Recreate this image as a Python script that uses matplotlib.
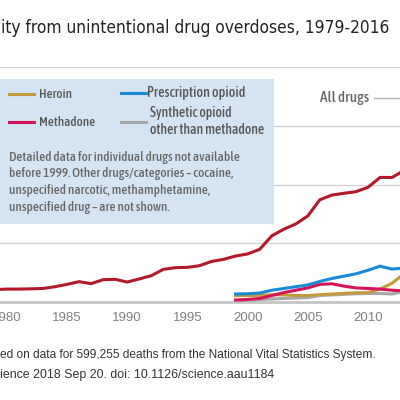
import matplotlib
matplotlib.use("Agg")
import matplotlib.pyplot as plt
from matplotlib import font_manager as fm
from matplotlib.patches import Rectangle
from matplotlib.lines import Line2D

# deaths per 100,000
years_all = list(range(1979, 2017))
all_drugs = [1.05, 1.1, 1.1, 1.12, 1.15, 1.3, 1.5, 1.73, 1.56, 1.9,
             1.93, 1.7, 1.96, 2.24, 2.78, 2.92, 2.95, 3.09, 3.45, 3.63,
             3.91, 4.09, 4.48, 5.62, 6.19, 6.64, 7.32, 8.7, 9.1, 9.25,
             9.39, 9.76, 10.6, 10.6, 11.2, 12.2, 13.8, 17.0]

years_drug = list(range(1999, 2017))
heroin = [0.54, 0.55, 0.54, 0.62, 0.6, 0.55, 0.55, 0.62, 0.68, 0.74,
          0.78, 0.8, 1.1, 1.6, 2.4, 3.2, 4.2, 5.0]
prescription = [0.68, 0.7, 0.76, 1.0, 1.15, 1.3, 1.45, 1.75, 2.0, 2.2,
                2.4, 2.7, 3.05, 2.8, 2.9, 3.1, 3.2, 3.5]
methadone = [0.17, 0.22, 0.3, 0.55, 0.8, 1.0, 1.2, 1.5, 1.55, 1.35,
             1.2, 1.15, 1.1, 1.0, 0.95, 0.9, 0.9, 0.95]
synthetic = [0.1, 0.15, 0.2, 0.26, 0.3, 0.33, 0.37, 0.55, 0.6, 0.65,
             0.7, 0.72, 0.72, 0.68, 0.9, 1.6, 2.9, 5.8]

xticks = [1980, 1985, 1990, 1995, 2000, 2005, 2010]

note_lines = ["Detailed data for individual drugs not available",
              "before 1999. Other drugs/categories \u2013 cocaine,",
              "unspecified narcotic, methamphetamine,",
              "unspecified drug \u2013 are not shown."]

RED = "#b3182b"
GOLD = "#c49a3c"
BLUE = "#1b8ad6"
PINK = "#d4145a"
GREY = "#a8a8a8"
BOX = "#d5e4f3"


def narrow_font(weight=400):
    # look for an installed condensed / narrow face
    best = None
    for f in fm.fontManager.ttflist:
        cond = (f.stretch in ("condensed", "semi-condensed", "extra-condensed")
                or "Narrow" in f.name or "Condensed" in f.name)
        if not cond or f.style != "normal":
            continue
        w = f.weight if isinstance(f.weight, int) else 400
        score = abs(w - weight)
        if best is None or score < best[0]:
            best = (score, f.fname)
    if best:
        return fm.FontProperties(fname=best[1])
    return fm.FontProperties(family="Liberation Sans")


fig = plt.figure(figsize=(4, 4), dpi=100)
renderer = fig.canvas.get_renderer()


def fx(px):
    return px / 400


def fy(py):
    return 1 - py / 400


def fit(texts, width_px):
    # scale the font size so the widest text spans width_px
    w = max(t.get_window_extent(renderer).width for t in texts)
    for t in texts:
        t.set_fontsize(t.get_fontsize() * width_px / w)


ax = fig.add_axes([0, fy(302), 1, fy(67) - fy(302)])

ax.plot(years_all, all_drugs, color=RED, lw=2.2, zorder=4)
ax.plot(years_drug, synthetic, color=GREY, lw=2.2, zorder=3)
ax.plot(years_drug, heroin, color=GOLD, lw=2.2, zorder=3)
ax.plot(years_drug, methadone, color=PINK, lw=2.2, zorder=3)
ax.plot(years_drug, prescription, color=BLUE, lw=2.2, zorder=3)

ax.set_yticks([5, 10, 15, 20])
ax.yaxis.grid(True, color="#d4d4d4", lw=1)
ax.set_axisbelow(True)
ax.tick_params(axis="y", length=0, labelleft=False)
ax.set_xticks(xticks)
ax.set_xticklabels([str(y) for y in xticks])
ax.tick_params(axis="x", length=0, pad=7, labelsize=9.5, labelcolor="#808080")
for lab in ax.get_xticklabels():
    lab.set_family("Liberation Sans")
ax.set_xlim(1979.435, 2012.66)
ax.set_ylim(0, 20)
for s in ["top", "left", "right"]:
    ax.spines[s].set_visible(False)
ax.spines["bottom"].set_color("#c4c4c4")
ax.spines["bottom"].set_linewidth(2)

fp_reg = narrow_font(400)
fp_med = narrow_font(500)

# title (cropped on the left in the reference)
title = fig.text(fx(1), fy(28), "ity from unintentional drug overdoses, 1979-2016",
                 fontproperties=fp_reg, fontsize=13, color="#222222",
                 va="center", ha="left")
fit([title], 387)

# legend box
fig.add_artist(Rectangle((fx(0), fy(224)), fx(274), fy(79) - fy(224),
                         transform=fig.transFigure, facecolor=BOX,
                         edgecolor="none", zorder=5))

legend_items = [
    (9, 94, GOLD, ["Heroin"], 39, 33),
    (121, 93, BLUE, ["Prescription opioid"], 147, 98),
    (9, 122, PINK, ["Methadone"], 39, 56),
    (121, 122, GREY, ["Synthetic opioid", "other than methadone"], 150, 114),
]
for x0, y0, col, label, tx, width in legend_items:
    fig.add_artist(Line2D([fx(x0), fx(x0 + 25)], [fy(y0), fy(y0)],
                          transform=fig.transFigure, color=col, lw=2.2,
                          zorder=6))
    ys = [y0] if len(label) == 1 else [y0 - 8.5, y0 + 8.5]
    items = [fig.text(fx(tx), fy(yy), lab, fontproperties=fp_med, fontsize=10.5,
                      color="#555555", va="center", ha="left", zorder=6)
             for lab, yy in zip(label, ys)]
    fit(items, width)

note = [fig.text(fx(9), fy(157 + 16.7 * i), line, fontproperties=fp_med,
                 fontsize=9.5, color="#666666", va="center", ha="left", zorder=6)
        for i, line in enumerate(note_lines)]
fit(note, 233)

# "All drugs" label with leader line
lbl = fig.text(fx(369), fy(98), "All drugs", fontproperties=fp_med, fontsize=11.5,
               color="#666666", va="center", ha="right")
fit([lbl], 49)
fig.add_artist(Line2D([fx(374), fx(400)], [fy(98), fy(98)],
                      transform=fig.transFigure, color="#b0b0b0", lw=1))

# footnotes (cropped on the left in the reference)
f1 = fig.text(fx(0), fy(355),
              "ed on data for 599,255 deaths from the National Vital Statistics System.",
              family="Liberation Sans", fontsize=7.8, color="#333333", va="center")
f2 = fig.text(fx(0), fy(375), "ience 2018 Sep 20. doi: 10.1126/science.aau1184",
              family="Liberation Sans", fontsize=7.8, color="#333333", va="center")
fit([f1], 380)
fit([f2], 277)

fig.savefig("out.png", dpi=100, facecolor="white")
